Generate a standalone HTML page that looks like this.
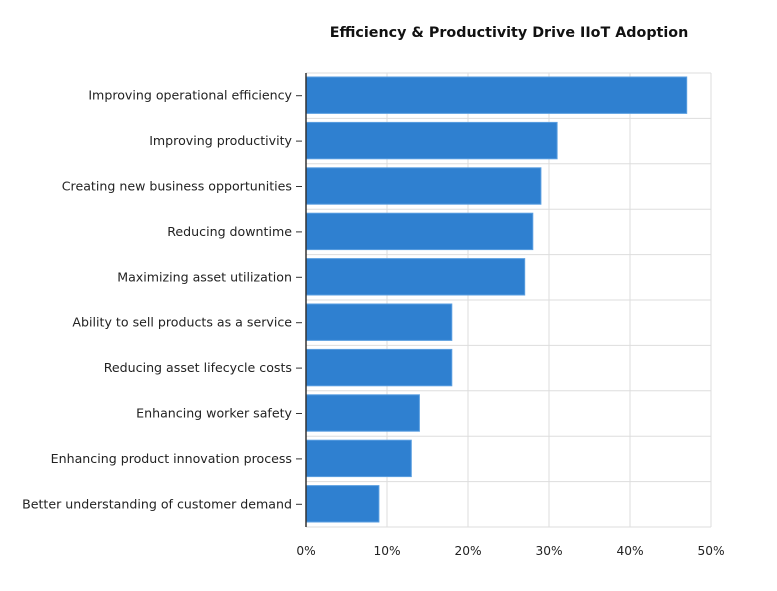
<!DOCTYPE html>
<html><head><meta charset="utf-8"><style>
body{margin:0;background:#fff;}
svg{display:block;font-family:"DejaVu Sans","Liberation Sans",sans-serif;}
</style></head><body>
<svg id="chart" width="777" height="591">
<text x="509" y="37" text-anchor="middle" font-size="14.3" font-weight="bold" fill="#111">Efficiency &amp; Productivity Drive IIoT Adoption</text>
<g id="grid"></g><g id="bars"></g><g id="axes"></g>
</svg>
<script>
const categories=["Improving operational efficiency","Improving productivity","Creating new business opportunities","Reducing downtime","Maximizing asset utilization","Ability to sell products as a service","Reducing asset lifecycle costs","Enhancing worker safety","Enhancing product innovation process","Better understanding of customer demand"];
const values=[47,31,29,28,27,18,18,14,13,9];
const ticks=[0,10,20,30,40,50];
const tickLabels=["0%","10%","20%","30%","40%","50%"];
const X0=306,X1=711,Y0=73,Y1=527,MAX=50;
const NS="http://www.w3.org/2000/svg";
function x(v){return X0+(v/MAX)*(X1-X0);}
const band=(Y1-Y0)/categories.length;
function y(i){return Y0+i*band;}
function mk(t,a,p){const e=document.createElementNS(NS,t);for(const k in a)e.setAttribute(k,a[k]);p.appendChild(e);return e;}
const g=document.getElementById('grid'),b=document.getElementById('bars'),ax=document.getElementById('axes');
ticks.forEach((t,i)=>{
 const l=mk('line',{x1:x(t),x2:x(t),y1:Y0,y2:Y1,stroke:'#ddd','stroke-width':1},g);
 
 
 const tx=mk('text',{x:x(t),y:Y1+28,'text-anchor':'middle','font-size':12.2,fill:'#222'},ax);
 tx.textContent=tickLabels[i];
 
 
});
for(let i=0;i<=categories.length;i++){
 const l=mk('line',{x1:X0,x2:X1,y1:y(i),y2:y(i),stroke:'#ddd','stroke-width':1},g);
 
 
}
categories.forEach((c,i)=>{
 const r=mk('rect',{x:X0,y:y(i)+4,width:x(values[i])-X0,height:band-9,fill:'#2f80d0',stroke:'#5a9ee0','stroke-width':1},b);
 
 
 const cy=y(i)+band/2;
 const tk=mk('line',{x1:296,x2:302,y1:cy,y2:cy,stroke:'#333','stroke-width':1},ax);
 
 
 const t=mk('text',{x:292,y:cy+4,'text-anchor':'end','font-size':12.6,fill:'#222'},ax);
 t.textContent=c;
 
 
});
const a=mk('line',{x1:X0,x2:X0,y1:Y0,y2:Y1,stroke:'#333','stroke-width':1.5},ax);


</script>
</body></html>
